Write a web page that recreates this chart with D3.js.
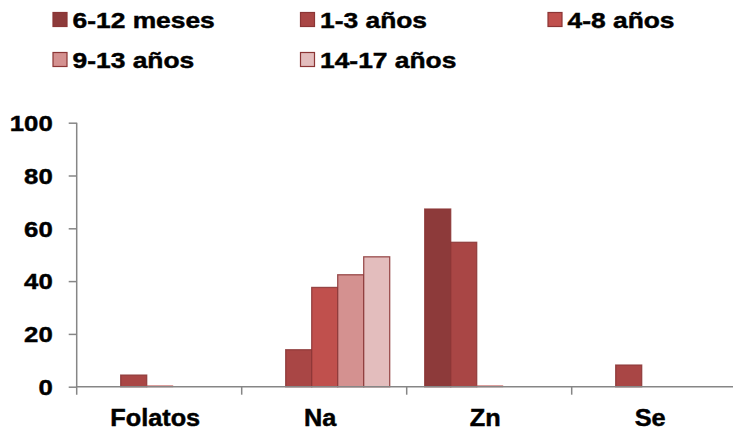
<!DOCTYPE html>
<html>
<head>
<meta charset="utf-8">
<script src="https://cdn.jsdelivr.net/npm/d3@7"></script>
<style>
  html, body { margin: 0; padding: 0; background: #fff; }
  svg { display: block; }
  text { font-family: "Liberation Sans", Arial, sans-serif; font-weight: bold; fill: #000; stroke: #000; stroke-width: 0.45px; }
</style>
</head>
<body>
<svg id="chart" width="733" height="430"></svg>
<script>
// Nutrients on the category axis
const categories = ["Folatos", "Na", "Zn", "Se"];

// Age groups (one bar per group within each nutrient)
const seriesNames = ["6-12 meses", "1-3 años", "4-8 años", "9-13 años", "14-17 años"];

// Percentage values, one array per age group, ordered like categories
const meses6_12 = [0, 0, 67.3, 0];
const anos1_3   = [4.4, 14, 54.7, 8.2];
const anos4_8   = [0.3, 37.6, 0.3, 0];
const anos9_13  = [0, 42.4, 0, 0];
const anos14_17 = [0, 49.2, 0, 0];

const yTicks = [0, 20, 40, 60, 80, 100];

const seriesValues = [meses6_12, anos1_3, anos4_8, anos9_13, anos14_17];
const fills = ["#8d3a3a", "#a94645", "#c0504d", "#d49190", "#e3bdbd"];
const strokeCol = "#8b3535";

const svg = d3.select("#chart");
const plotLeft = 76.7, plotRight = 736.7, plotTop = 122.7, plotBottom = 386.7;

const x0 = d3.scaleBand().domain(categories).range([plotLeft, plotRight]).paddingInner(0).paddingOuter(0);
const x1 = d3.scaleBand().domain(seriesNames).range([18, 148]);
const y = d3.scaleLinear().domain([0, 100]).range([plotBottom, plotTop]);

// Bars
const rows = [];
seriesNames.forEach((s, si) => {
  categories.forEach((c, ci) => {
    const v = seriesValues[si][ci];
    if (v > 0) rows.push({ s, si, c, v });
  });
});

svg.append("g").selectAll("rect").data(rows).join("rect")
  .attr("x", d => x0(d.c) + x1(d.s))
  .attr("y", d => y(d.v))
  .attr("width", x1.bandwidth())
  .attr("height", d => y(0) - y(d.v))
  .attr("fill", d => fills[d.si])
  .attr("stroke", d => d.v < 1 ? fills[d.si] : strokeCol)
  .attr("stroke-width", d => d.v < 1 ? 1 : 1.3)
  .attr("stroke-opacity", 0.85);

// Y axis
const yAxis = svg.append("g").attr("transform", `translate(${plotLeft},0)`)
  .call(d3.axisLeft(y).tickValues(yTicks).tickSize(8).tickSizeOuter(0));
yAxis.select(".domain").attr("stroke", "#868686").attr("stroke-width", 1.5)
  .attr("d", `M0,${plotTop}V${plotBottom + 8}`);
yAxis.selectAll(".tick line").attr("stroke", "#868686").attr("stroke-width", 1.5);
yAxis.selectAll(".tick text")
  .attr("x", -24 / 1.17)
  .attr("dy", "0.35em")
  .attr("transform", "scale(1.17,1)")
  .style("font-size", "22px")
  .style("font-family", "'Liberation Sans', Arial, sans-serif")
  .style("font-weight", "bold")
  .attr("fill", "#000");

// X axis: line along zero, ticks at category boundaries
const xAxis = svg.append("g");
xAxis.append("line")
  .attr("x1", plotLeft).attr("x2", plotRight).attr("y1", y(0)).attr("y2", y(0))
  .attr("stroke", "#868686").attr("stroke-width", 1.5);
const boundaries = categories.slice(1).map(c => x0(c));
xAxis.selectAll("line.tk").data(boundaries).join("line").attr("class", "tk")
  .attr("x1", d => d).attr("x2", d => d)
  .attr("y1", y(0)).attr("y2", y(0) + 8)
  .attr("stroke", "#868686").attr("stroke-width", 1.5);
xAxis.selectAll("text").data(categories).join("text")
  .attr("transform", d => `translate(${x0(d) + x0.bandwidth() / 2 - 4},${y(0) + 39.5}) scale(1.1,1)`)
  .attr("text-anchor", "middle")
  .style("font-size", "23px")
  .text(d => d);

// Legend: three columns, two rows
const legend = svg.append("g");
const colStep = 247.5, rowStep = 40;
const items = legend.selectAll("g").data(seriesNames).join("g")
  .attr("transform", (d, i) => `translate(${53 + (i % 3) * colStep},${12.5 + Math.floor(i / 3) * rowStep})`);
items.append("rect")
  .attr("width", 14).attr("height", 14)
  .attr("fill", (d, i) => fills[i])
  .attr("stroke", strokeCol).attr("stroke-width", 1.2);
items.append("text")
  .attr("transform", "translate(19.5,15.5) scale(1.2,1)")
  .style("font-size", "22px")
  .text(d => d);
</script>
</body>
</html>
